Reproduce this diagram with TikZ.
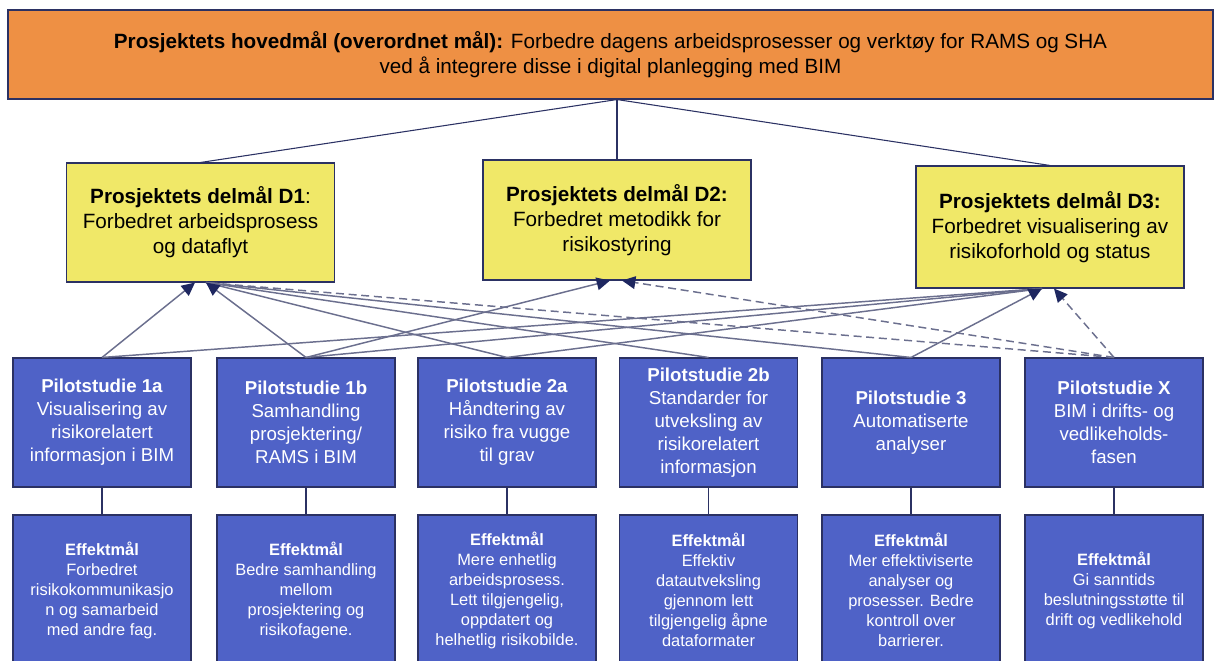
\documentclass[tikz,border=0pt]{standalone}
\usepackage{fontspec}
\setmainfont{Liberation Sans}
\usetikzlibrary{arrows.meta}

\definecolor{goalorange}{HTML}{EE9044}
\definecolor{subyellow}{HTML}{F0E868}
\definecolor{pilotblue}{HTML}{4F62C7}
\definecolor{edgenavy}{HTML}{2B3163}
\definecolor{linkgray}{HTML}{6B6F8E}
\definecolor{tipnavy}{HTML}{1E2760}

\tikzset{
  box/.style={draw=edgenavy, line width=0.8pt, inner sep=0pt, align=center},
  goalbox/.style={box, fill=goalorange, minimum width=903.75pt, minimum height=66.75pt,
    font=\fontsize{15.5}{18.75}\selectfont},
  subbox/.style={box, fill=subyellow, minimum width=201pt,
    font=\fontsize{15.5}{18.75}\selectfont},
  pilotbox/.style={box, fill=pilotblue, text=white, minimum width=133.5pt, minimum height=96.75pt,
    font=\fontsize{14}{17.25}\selectfont},
  effectbox/.style={box, fill=pilotblue, text=white, minimum width=133.5pt, minimum height=112.5pt,
    font=\fontsize{12.3}{15}\selectfont},
  tree/.style={draw=edgenavy, line width=0.8pt},
  link/.style={draw=linkgray, line width=1.1pt},
  dashlink/.style={link, dash pattern=on 6pt off 3.5pt},
  tip/.style={-{Triangle[length=10pt,width=9.5pt,color=tipnavy]}},
}

\begin{document}
\begin{tikzpicture}[x=0.75pt, y=-0.75pt]
\useasboundingbox (0,0) rectangle (1215,661);

% main goal
\node[goalbox] (top) at (610.5,54.5)
  {\textbf{Prosjektets hovedmål (overordnet mål):} Forbedre dagens arbeidsprosesser og verktøy for RAMS og SHA\\
   ved å integrere disse i digital planlegging med BIM};

% sub-goals
\node[subbox, minimum height=89.25pt] (d1) at (200.5,222.5)
  {\textbf{Prosjektets delmål D1}:\\Forbedret arbeidsprosess\\og dataflyt};
\node[subbox, minimum height=90pt] (d2) at (617,220)
  {\textbf{Prosjektets delmål D2:}\\Forbedret metodikk for\\risikostyring};
\node[subbox, minimum height=91.5pt] (d3) at (1050,227)
  {\textbf{Prosjektets delmål D3:}\\Forbedret visualisering av\\risikoforhold og status};

% pilot studies
\node[pilotbox] (p1a) at (102,422.5)
  {\textbf{Pilotstudie 1a}\\Visualisering av\\risikorelatert\\informasjon i BIM};
\node[pilotbox] (p1b) at (306,422.5)
  {\textbf{Pilotstudie 1b}\\Samhandling\\prosjektering/\\RAMS i BIM};
\node[pilotbox] (p2a) at (507,422.5)
  {\textbf{Pilotstudie 2a}\\Håndtering av\\risiko fra vugge\\til grav};
\node[pilotbox] (p2b) at (708.5,422.5)
  {\textbf{Pilotstudie 2b}\\Standarder for\\utveksling av\\risikorelatert\\informasjon};
\node[pilotbox] (p3) at (911,422.5)
  {\textbf{Pilotstudie 3}\\Automatiserte\\analyser};
\node[pilotbox] (px) at (1114,422.5)
  {\textbf{Pilotstudie X}\\BIM i drifts- og\\vedlikeholds-\\fasen};

% effect goals
\node[effectbox] (e1a) at (102,590)
  {\textbf{Effektmål}\\Forbedret\\risikokommunikasjo\\n og samarbeid\\med andre fag.};
\node[effectbox] (e1b) at (306,590)
  {\textbf{Effektmål}\\Bedre samhandling\\mellom\\prosjektering og\\risikofagene.};
\node[effectbox] (e2a) at (507,590)
  {\textbf{Effektmål}\\Mere enhetlig\\arbeidsprosess.\\Lett tilgjengelig,\\oppdatert og\\helhetlig risikobilde.};
\node[effectbox] (e2b) at (708.5,590)
  {\textbf{Effektmål}\\Effektiv\\datautveksling\\gjennom lett\\tilgjengelig åpne\\dataformater};
\node[effectbox] (e3) at (911,590)
  {\textbf{Effektmål}\\Mer effektiviserte\\analyser og\\prosesser. Bedre\\kontroll over\\barrierer.};
\node[effectbox] (ex) at (1114,590)
  {\textbf{Effektmål}\\Gi sanntids\\beslutningsstøtte til\\drift og vedlikehold};

% tree from the main goal
\coordinate (hub) at (top.south -| d2.north);
\draw[tree] (hub) -- (d1.north);
\draw[tree] (hub) -- (d2.north);
\draw[tree] (hub) -- (d3.north);

% pilot study to effect goal
\foreach \p/\e in {p1a/e1a, p1b/e1b, p2a/e2a, p2b/e2b, p3/e3, px/ex}
  \draw[tree] (\p.south) -- (\e.north);

% arrival points under the sub-goals
\coordinate (d1l) at ([xshift=-4.1pt]d1.south);
\coordinate (d1r) at ([xshift=4.1pt]d1.south);
\coordinate (d2l) at ([xshift=-5.25pt]d2.south);
\coordinate (d2r) at ([xshift=3.75pt]d2.south);
\coordinate (d3l) at ([xshift=-6pt]d3.south);
\coordinate (d3r) at ([xshift=3pt]d3.south);

% contributions of the pilot studies
\draw[link] (p2a.north) -- (d1r);
\draw[link] (p2b.north) -- (d1r);
\draw[link] (p3.north) -- (d1r);
\draw[link] (p1a.north) -- (d3l);
\draw[link] (p1b.north) -- (d3l);
\draw[link] (p2a.north) -- (d3l);
\draw[dashlink] (px.north) -- (d1r);
\draw[link, tip] (p1a.north) -- (d1l);
\draw[link, tip] (p1b.north) -- (d1r);
\draw[link, tip] (p1b.north) -- (d2l);
\draw[link, tip] (p3.north) -- (d3l);
\draw[dashlink, tip] (px.north) -- (d2r);
\draw[dashlink, tip] (px.north) -- (d3r);
\end{tikzpicture}
\end{document}
